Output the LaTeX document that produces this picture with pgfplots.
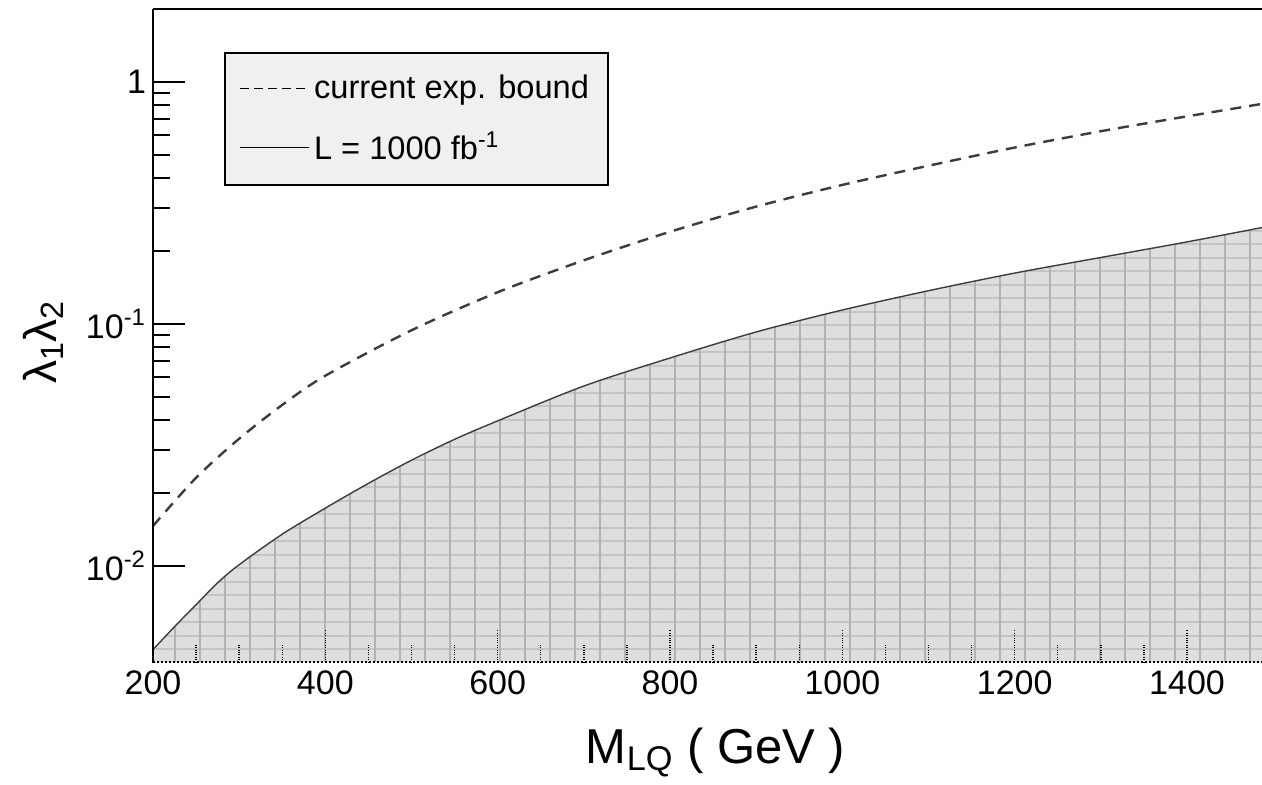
\documentclass[border=0pt]{standalone}
\usepackage{pgfplots}
\pgfplotsset{compat=1.18}
\usepgfplotslibrary{fillbetween}
\usetikzlibrary{patterns.meta}
\usepackage{fontspec}
\setmainfont{Liberation Sans}

\definecolor{hatchbg}{RGB}{222,222,222}
\definecolor{hatchv}{RGB}{178,178,178}
\definecolor{hatchh}{RGB}{196,196,196}
\definecolor{curve}{RGB}{60,60,60}

% current experimental bound
\pgfplotstableread{
M lam
200 0.0146
250 0.0231
300 0.0335
350 0.0462
400 0.061
500 0.094
600 0.135
700 0.183
800 0.240
900 0.305
1000 0.375
1100 0.450
1200 0.535
1300 0.625
1400 0.720
1500 0.825
}\dashdata

% reach with L = 1000 fb^-1
\pgfplotstableread{
M lam
200 0.0045
225 0.0056
250 0.0069
275 0.0085
300 0.0101
350 0.0135
400 0.0173
450 0.0219
500 0.0273
550 0.0333
600 0.0397
700 0.0553
800 0.0722
900 0.0925
1000 0.114
1100 0.137
1200 0.162
1300 0.188
1400 0.218
1500 0.255
}\soliddata

\begin{document}
\begin{tikzpicture}
\begin{axis}[
    at={(0pt,0pt)}, anchor=south west,
    width=554.5pt, height=326.5pt, scale only axis,
    ymode=log,
    xmin=200, xmax=1487,
    ymin=0.004, ymax=2,
    axis y line*=left,
    axis x line*=bottom,
    axis on top,
    axis line style={line width=1pt, black},
    x axis line style={densely dotted, line width=0.9pt},
    tick align=inside,
    major tick length=16pt,
    minor tick length=8.5pt,
    ytick={0.01,0.1,1},
    yticklabels={10\textsuperscript{-2},10\textsuperscript{-1},1},
    y tick style={line width=1pt, black},
    xtick={200,400,...,1400},
    minor x tick num=3,
    x tick style={densely dotted, line width=0.7pt, black},
    /pgf/number format/assume math mode=true,
    /pgf/number format/1000 sep={},
    tick label style={font=\fontsize{17}{19}\selectfont},
    xticklabel style={yshift=-1pt},
    xlabel={M\textsubscript{LQ} ( GeV )},
    ylabel={λ\textsubscript{1}λ\textsubscript{2}},
    xlabel style={at={(axis description cs:0.5,0)}, anchor=base, xshift=4pt, yshift=-50.5pt, font=\fontsize{24.5}{27}\selectfont},
    ylabel style={at={(axis description cs:-0.099,0.49)}, anchor=center, font=\fontsize{23}{25}\selectfont},
    legend style={at={(rel axis cs:0.064,0.934)}, anchor=north west,
        fill=gray!12, draw=black, line width=0.9pt,
        font=\fontsize{16.3}{18}\selectfont,
        inner xsep=7.5pt, inner ysep=9pt, row sep=11pt,
        /tikz/every even column/.append style={column sep=12pt}},
    legend cell align=left,
    legend image code/.code={\draw[#1] (0pt,0pt) -- (34.5pt,0pt);},
]
\addplot[name path=lim, draw=none, smooth, forget plot] table {\soliddata};
\path[name path=floor] (axis cs:200,0.004) -- (axis cs:1500,0.004);
\addplot[fill=hatchbg, draw=none, forget plot,
    postaction={pattern={Lines[angle=0,distance=6.75pt,line width=1pt]}, pattern color=hatchh},
    postaction={pattern={Lines[angle=90,distance=12.5pt,line width=0.9pt]}, pattern color=hatchv}]
    fill between[of=lim and floor];
\addplot[curve, line width=0.7pt, smooth, forget plot] table {\soliddata};
\addplot[curve, line width=1.2pt, smooth, dash pattern=on 5.5pt off 4pt, forget plot] table {\dashdata};
\addlegendimage{black, line width=0.6pt, dash pattern=on 4.5pt off 2.5pt}
\addlegendimage{black, line width=0.6pt}
\legend{current exp. bound, L = 1000 fb\textsuperscript{-1}}
\draw[line width=1pt, black] (rel axis cs:0,1) -- (rel axis cs:1,1);
\end{axis}
\pgfresetboundingbox
\useasboundingbox (-76.5pt,-61pt) rectangle (554.5pt,331pt);
\end{tikzpicture}
\end{document}
